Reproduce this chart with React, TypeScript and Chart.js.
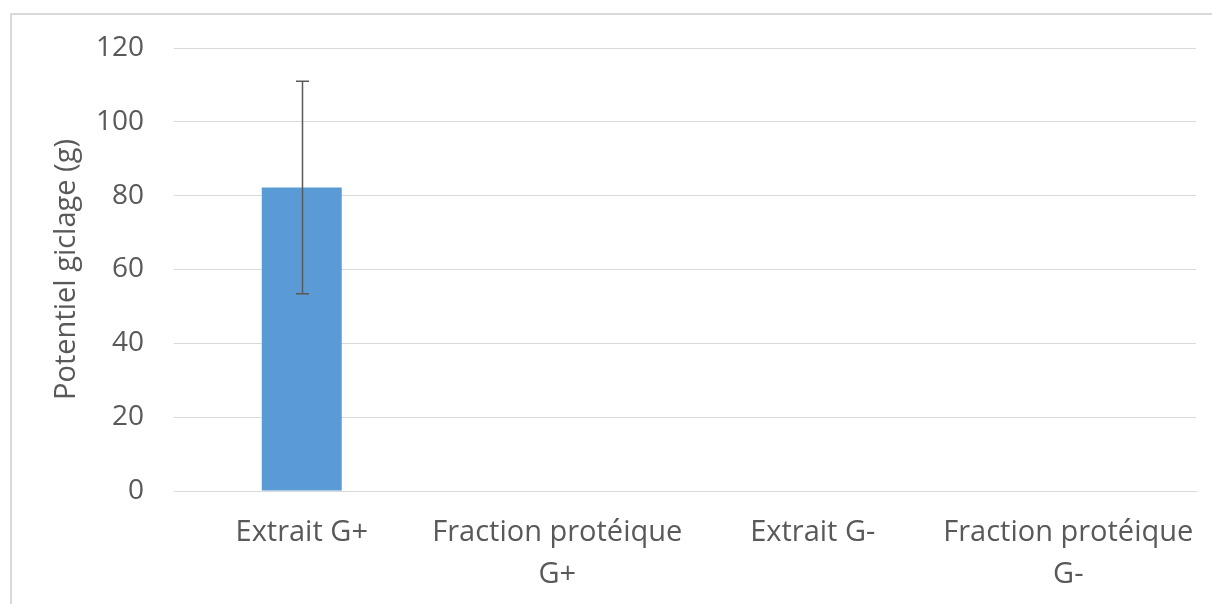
import React, { useEffect, useRef } from "react";
import { Chart, registerables } from "chart.js";

Chart.register(...registerables);

const categories: (string | string[])[] = [
  "Extrait G+",
  ["Fraction protéique", "G+"],
  "Extrait G-",
  ["Fraction protéique", "G-"],
];
const values: number[] = [82.2, 0, 0, 0];
const errors: number[] = [28.8, 0, 0, 0];
const yTicksMin = 0;
const yTicksMax = 120;
const yTickStep = 20;
const yTitle = "Potentiel giclage (g)";

const errorBarPlugin = {
  id: "errorBars",
  afterDatasetsDraw(chart: any) {
    const ctx = chart.ctx;
    const meta = chart.getDatasetMeta(0);
    const y = chart.scales.y;
    ctx.save();
    ctx.strokeStyle = "#595959";
    ctx.lineWidth = 1.5;
    meta.data.forEach((bar: any, i: number) => {
      const e = errors[i];
      if (!e) return;
      const x = Math.round(bar.x) + 0.5;
      const top = y.getPixelForValue(values[i] + e);
      const bot = y.getPixelForValue(values[i] - e);
      const cap = 6.5;
      ctx.beginPath();
      ctx.moveTo(x, top);
      ctx.lineTo(x, bot);
      ctx.moveTo(x - cap, top);
      ctx.lineTo(x + cap, top);
      ctx.moveTo(x - cap, bot);
      ctx.lineTo(x + cap, bot);
      ctx.stroke();
    });
    ctx.restore();
  },
};

export default function App() {
  const ref = useRef<HTMLCanvasElement | null>(null);
  useEffect(() => {
    if (!ref.current) return;
    const chart = new Chart(ref.current, {
      type: "bar",
      data: {
        labels: categories as any,
        datasets: [
          {
            data: values,
            backgroundColor: "#5b9bd5",
            borderWidth: 0,
            categoryPercentage: 1,
            barPercentage: 0.313,
          },
        ],
      },
      options: {
        animation: false,
        responsive: false,
        maintainAspectRatio: false,
        layout: { padding: { top: 48, right: 16, left: 0, bottom: 0 } },
        plugins: {
          legend: { display: false },
          tooltip: { enabled: false },
        },
        scales: {
          x: {
            grid: { display: false, drawTicks: false },
            border: { display: true, color: "#d9d9d9", width: 1 },
            ticks: {
              color: "#595959",
              padding: 21,
              maxRotation: 0,
              autoSkip: false,
              font: { family: "'Open Sans'", size: 29, lineHeight: 1.45 },
            },
            afterFit(scale: any) {
              scale.height = 604 - 491;
              scale.paddingLeft = 0;
              scale.paddingRight = 0;
            },
          },
          y: {
            min: yTicksMin,
            max: yTicksMax,
            grid: { color: "#d9d9d9", lineWidth: 1, drawTicks: false },
            border: { display: false },
            ticks: {
              stepSize: yTickStep,
              color: "#595959",
              padding: 30,
              font: { family: "'Open Sans'", size: 28 },
            },
            title: {
              display: true,
              text: yTitle,
              color: "#595959",
              font: { family: "'Open Sans'", size: 29 },
              padding: { top: 49, bottom: 0 },
            },
            afterFit(scale: any) {
              scale.width = 174;
            },
          },
        },
      },
      plugins: [errorBarPlugin],
    });
    return () => chart.destroy();
  }, []);
  return (
    <div style={{ position: "absolute", left: 0, top: 0, width: 1212, height: 604, background: "#fff", overflow: "hidden" }}>
      <canvas ref={ref} width={1212} height={604} style={{ position: "absolute", left: 0, top: 0 }} />
      <div
        style={{
          position: "absolute",
          left: 10,
          top: 13,
          width: 1212,
          height: 604,
          borderTop: "2px solid #d9d9d9",
          borderLeft: "2px solid #d9d9d9",
          pointerEvents: "none",
        }}
      />
    </div>
  );
}
